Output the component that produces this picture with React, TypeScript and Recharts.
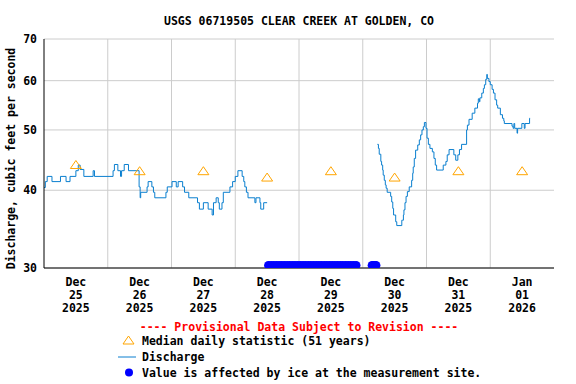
import { CartesianGrid, ComposedChart, Line, ReferenceLine, Scatter, XAxis, YAxis } from "recharts"

// hours counted from Dec 25 2025 00:00 (local)
const dayMonths = ["Dec", "Dec", "Dec", "Dec", "Dec", "Dec", "Dec", "Jan"]
const dayNumbers = ["25", "26", "27", "28", "29", "30", "31", "01"]
const dayYears = ["2025", "2025", "2025", "2025", "2025", "2025", "2025", "2026"]
const dayNoonHours = [12, 36, 60, 84, 108, 132, 156, 180]
const midnightHours = [24, 48, 72, 96, 120, 144, 168]
const yTicks = [30, 40, 50, 60, 70]

// median daily statistic (51 years), cfs
const medianCfs = [44, 43, 43, 42, 43, 42, 43, 43]

// discharge before the ice period
const seg1Hours = [
  0, 0.5, 1.2, 3.0, 6.2, 8.3, 9.8, 12.0, 12.9, 13.6, 15.0, 18.5, 19.0, 26.0, 26.5, 27.8, 28.8,
  29.2, 30.2, 31.8, 35.8, 36.2, 36.4, 38.8, 39.2, 40.6, 41.2, 41.7, 45.9, 46.4, 48.2, 49.8,
  50.5, 52.2, 52.9, 54.5, 57.8, 58.5, 60.0, 61.8, 63.3, 63.8, 64.8, 65.6, 66.0, 67.0, 67.5,
  70.0, 71.0, 72.0, 73.0, 74.6, 75.2, 75.6, 76.2, 76.8, 79.4, 79.8, 81.3, 81.6, 82.7, 84.0,
]
const seg1Cfs = [
  40.4, 41.3, 42.1, 41.3, 42.1, 41.3, 42.1, 43.0, 43.9, 43.2, 42.1, 43.0, 42.1, 43.0, 44.0, 43.0,
  42.1, 43.0, 44.0, 43.0, 40.5, 38.9, 39.7, 40.5, 41.3, 40.5, 39.7, 38.9, 39.7, 40.5, 41.3, 40.5,
  41.3, 40.5, 39.7, 38.9, 38.2, 37.3, 38.2, 37.3, 36.5, 38.2, 38.9, 38.2, 37.3, 38.2, 39.7,
  40.5, 41.3, 42.1, 43.0, 42.1, 41.3, 40.5, 39.7, 38.9, 38.2, 38.9, 38.2, 37.3, 38.2, 38.2,
]

// discharge after the ice period
const seg2Hours = [
  125.5, 125.9, 126.2, 126.8, 127.1, 127.5, 127.7, 128.1, 128.5, 128.8, 129.2, 130.5, 130.9,
  131.3, 131.6, 132.4, 132.8, 134.7, 134.9, 135.3, 135.5, 135.9, 136.3, 136.8, 137.5, 138.4,
  138.8, 139.0, 139.4, 139.9, 140.7, 141.3, 141.8, 142.3, 142.8, 143.2, 143.8, 144.2, 144.7,
  145.3, 146.2, 146.8, 147.3, 147.8, 150.3, 151.3, 151.8, 152.5, 154.3, 155.0, 155.8, 156.4,
  157.2, 159.1, 159.4, 160.0, 161.2, 162.2, 163.2, 163.5, 163.9, 164.1, 164.8, 165.4, 165.8,
  166.3, 166.7, 166.9, 167.5, 168.0, 168.7, 169.2, 169.8, 170.4, 170.8, 171.8, 172.6, 173.1,
  173.3, 176.2, 176.6, 176.9, 177.2, 178.1, 178.3, 179.9, 180.8, 181.1, 182.8, 183.0,
]
const seg2Cfs = [
  47.4, 46.7, 45.7, 44.5, 43.9, 43.1, 42.3, 41.5, 40.8, 40.3, 39.7, 39.1, 38.3,
  37.4, 36.5, 35.6, 35.1, 35.8, 35.8, 36.5, 37.2, 38.2, 39.1, 39.8, 40.5, 41.5,
  42.6, 43.6, 45.0, 46.4, 47.3, 48.2, 49.1, 50.0, 50.6, 51.4, 50.3, 48.5, 47.4,
  46.7, 46.1, 45.0, 43.9, 43.1, 43.9, 44.5, 45.6, 46.5, 45.6, 44.7, 45.6, 46.5,
  47.4, 50.0, 50.9, 52.0, 53.2, 54.2, 55.2, 56.1, 55.5, 56.3, 57.3, 58.3, 59.1,
  60.3, 61.4, 60.5, 59.8, 59.1, 58.1, 57.3, 55.9, 54.8, 54.2, 52.9, 52.2, 51.7,
  51.2, 50.7, 50.3, 51.2, 50.3, 49.4, 50.3, 51.2, 50.3, 51.2, 52.2, 52.2,
]

// times flagged "ice affected"
const iceHours = [
  84.5, 85.5, 86.5, 87.5, 88.5, 89.5, 90.5, 91.5, 92.5, 93.5, 94.5, 95.5, 96.5, 97.5, 98.5,
  99.5, 100.5, 101.5, 102.5, 103.5, 104.5, 105.5, 106.5, 107.5, 108.5, 109.5, 110.5, 111.5,
  112.5, 113.5, 114.5, 115.5, 116.5, 117.5, 123.5, 124.0, 124.5, 125.0,
]
const ICE_LEVEL = 30.3

const FONT = "'DejaVu Sans Mono', 'Liberation Mono', monospace"
const BLUE = "#0a7fcf"
const ORANGE = "#ffa500"

const seg1 = seg1Hours.map((h, i) => ({ h, cfs: seg1Cfs[i] }))
const seg2 = seg2Hours.map((h, i) => ({ h, cfs: seg2Cfs[i] }))
const medians = dayNoonHours.map((h, i) => ({ h, cfs: medianCfs[i] }))
const ice = iceHours.map((h) => ({ h, cfs: ICE_LEVEL }))

const Triangle = (props: any) => {
  const { cx, cy } = props
  return (
    <path
      d={`M${cx},${cy - 4} L${cx + 5.5},${cy + 4} L${cx - 5.5},${cy + 4} Z`}
      fill="none"
      stroke={ORANGE}
      strokeWidth={1}
    />
  )
}

const IceDot = (props: any) => <circle cx={props.cx} cy={props.cy} r={4.4} fill="#0000ff" />

const DayTick = (props: any) => {
  const { x, y, payload } = props
  const i = dayNoonHours.indexOf(payload.value)
  const style = { fontFamily: FONT, fontWeight: "bold" as const, fontSize: 11.5 }
  return (
    <g>
      <text x={x} y={y + 18} textAnchor="middle" fill="#000" style={style}>
        {dayMonths[i]}
      </text>
      <text x={x} y={y + 31} textAnchor="middle" fill="#000" style={style}>
        {dayNumbers[i]}
      </text>
      <text x={x} y={y + 44} textAnchor="middle" fill="#000" style={style}>
        {dayYears[i]}
      </text>
    </g>
  )
}

export default function App() {
  const textStyle = { fontFamily: FONT, fontWeight: "bold" as const, fontSize: 11.5 }
  return (
    <div style={{ position: "absolute", left: 0, top: 0, width: 576, height: 384, background: "#fff" }}>
      <ComposedChart width={576} height={384} margin={{ top: 39, right: 22, bottom: 66, left: 8 }}>
        <CartesianGrid vertical={false} stroke="#cccccc" />
        {midnightHours.map((h) => (
          <ReferenceLine key={h} x={h} stroke="#cccccc" />
        ))}
        <XAxis
          dataKey="h"
          type="number"
          domain={[0, 192]}
          ticks={dayNoonHours}
          interval={0}
          allowDataOverflow
          height={50}
          tickLine={false}
          tickSize={0}
          tickMargin={0}
          axisLine={{ stroke: "#000" }}
          tick={<DayTick />}
        />
        <XAxis xAxisId="top" orientation="top" type="number" domain={[0, 192]} height={0} tick={false} tickLine={false} axisLine={{ stroke: "#000" }} />
        <YAxis
          type="number"
          scale="log"
          domain={[30, 70]}
          ticks={yTicks}
          interval={0}
          allowDataOverflow
          width={36}
          tickLine={false}
          tickSize={0}
          tickMargin={7}
          axisLine={{ stroke: "#000" }}
          tick={{ fill: "#000", fontFamily: FONT, fontWeight: "bold", fontSize: 11.5 }}
        />
        <YAxis yAxisId="right" orientation="right" type="number" domain={[30, 70]} width={0} tick={false} tickLine={false} axisLine={{ stroke: "#000" }} />
        <Line data={seg1} dataKey="cfs" type="stepAfter" stroke={BLUE} strokeWidth={1} dot={false} isAnimationActive={false} />
        <Line data={seg2} dataKey="cfs" type="stepAfter" stroke={BLUE} strokeWidth={1} dot={false} isAnimationActive={false} />
        <Scatter data={medians} dataKey="cfs" shape={<Triangle />} isAnimationActive={false} />
        <Scatter data={ice} dataKey="cfs" shape={<IceDot />} isAnimationActive={false} />
      </ComposedChart>
      <svg width={576} height={384} style={{ position: "absolute", left: 0, top: 0, pointerEvents: "none" }}>
        <text x={299} y={25} textAnchor="middle" fill="#000" style={textStyle}>
          USGS 06719505 CLEAR CREEK AT GOLDEN, CO
        </text>
        <text transform="translate(15,158.5) rotate(-90)" textAnchor="middle" fill="#000" style={textStyle}>
          Discharge, cubic feet per second
        </text>
        <text x={299} y={331} textAnchor="middle" fill="#ff0000" style={textStyle}>
          ---- Provisional Data Subject to Revision ----
        </text>
        <path d="M128.5,336 L134,344 L123,344 Z" fill="none" stroke={ORANGE} />
        <text x={142} y={344.5} fill="#000" style={textStyle}>
          Median daily statistic (51 years)
        </text>
        <line x1={118} x2={136} y1={357} y2={357} stroke={BLUE} />
        <text x={142} y={361} fill="#000" style={textStyle}>
          Discharge
        </text>
        <circle cx={129} cy={372.5} r={4} fill="#0000ff" />
        <text x={142} y={377} fill="#000" style={textStyle}>
          Value is affected by ice at the measurement site.
        </text>
      </svg>
    </div>
  )
}
